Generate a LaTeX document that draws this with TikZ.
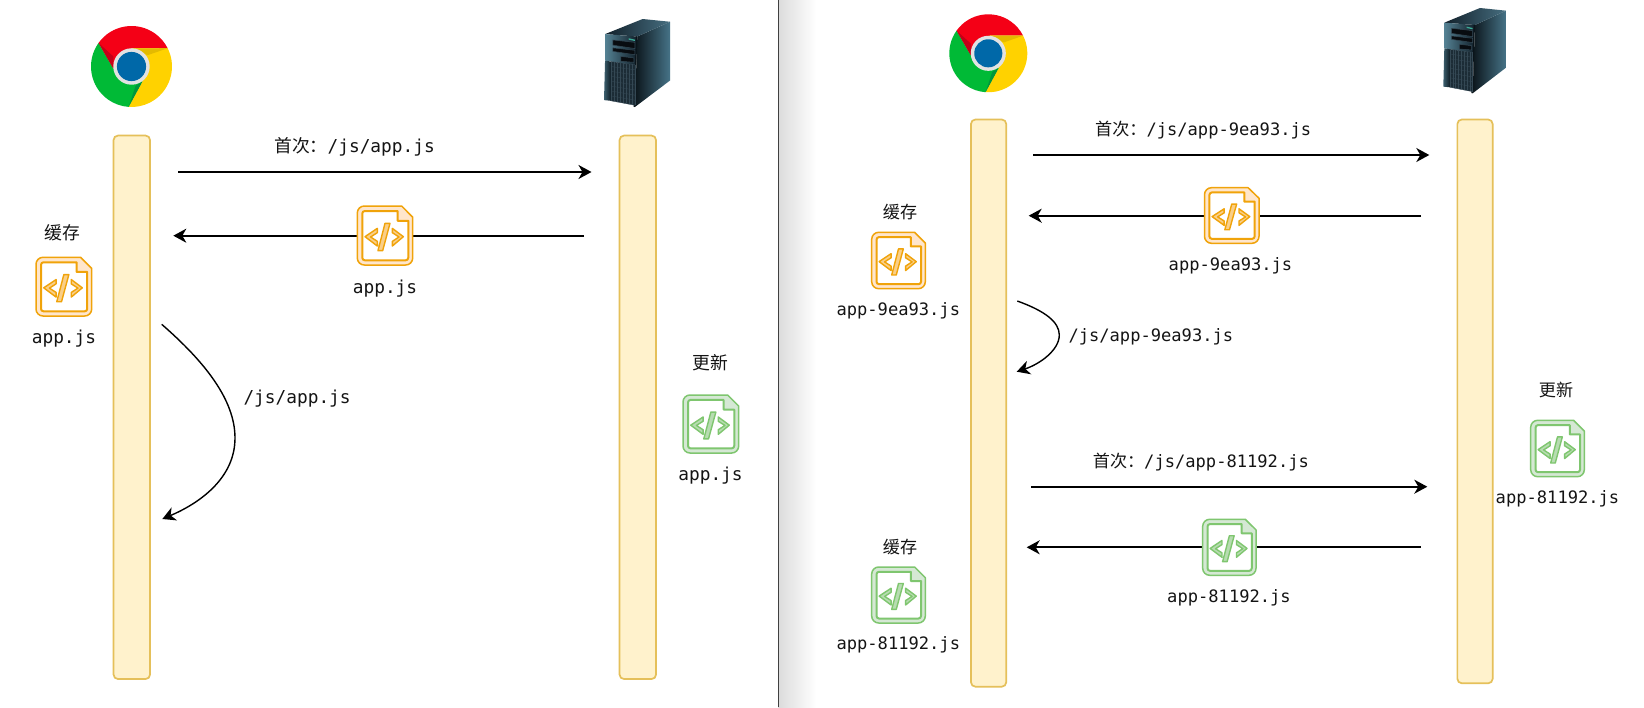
\documentclass[tikz,border=0pt]{standalone}
\usepackage{fontspec}
\setmainfont{DejaVu Sans Mono}
\newfontfamily\cjk{Noto Sans CJK SC}
\usetikzlibrary{arrows.meta}
\definecolor{barfill}{HTML}{FFF2CC}
\definecolor{barline}{HTML}{E5C05A}
\definecolor{orS}{HTML}{F0A30A}
\definecolor{orF}{HTML}{FFE6CC}
\definecolor{grS}{HTML}{7FC66F}
\definecolor{grF}{HTML}{D5E8D4}
\definecolor{txt}{HTML}{141414}
\definecolor{chR}{HTML}{F40016}
\definecolor{chG}{HTML}{00BA36}
\definecolor{chY}{HTML}{FFD200}
\definecolor{chRd}{HTML}{C40018}
\definecolor{chYd}{HTML}{E4BA00}
\definecolor{chGd}{HTML}{00963C}
\definecolor{chH}{HTML}{E2E2E2}
\definecolor{chB}{HTML}{0068A8}
\definecolor{svA}{HTML}{0C161C}
\definecolor{svB}{HTML}{467387}
\definecolor{svC}{HTML}{12202A}
\definecolor{svD}{HTML}{466E80}
\definecolor{svE}{HTML}{558294}
\definecolor{svF}{HTML}{101E28}
\definecolor{svG}{HTML}{0A141A}
\definecolor{svH}{HTML}{3C5F6E}
\definecolor{svI}{HTML}{0F1C24}
\definecolor{svJ}{HTML}{1C2C36}
\definecolor{svK}{HTML}{344854}
\definecolor{svL}{HTML}{3CAA96}
\definecolor{svM}{HTML}{080C10}
\tikzset{
  barbox/.style={draw=barline,fill=barfill,line width=1.7pt,rounded corners=4.5pt,inner sep=0pt,outer sep=0pt},
  flow/.style={line width=1.7pt,black,-{Stealth[length=13pt,width=14pt,inset=4pt]}},
  big/.style={font=\fontsize{17.8}{20}\selectfont,text=txt,inner sep=0pt,text height=17pt,text depth=4pt},
  small/.style={font=\fontsize{17.1}{20}\selectfont,text=txt,inner sep=0pt,text height=17pt,text depth=4pt},
  han/.style={yshift=-.3pt},
}
\newcommand{\codeicon}[7]{%
  \pgfmathsetmacro{\iw}{#4-#2}\pgfmathsetmacro{\ih}{#5-#3}
  \coordinate (#1) at ({(#2+#4)/2},{(#3+#5)/2});
  \begin{scope}[shift={(#2,#3)},x=\iw pt,y=-\ih pt,line join=round]
    \filldraw[draw=#6,fill=#7,line width=1.5pt,rounded corners=7pt]
      (.3,0) -- (0,0) -- (0,1) -- (1,1) -- (1,.42) [sharp corners] -- (1,.19) -- (.8,0) -- cycle;
    \filldraw[draw=#6,fill=white,line width=2pt]
      (.73,.085) [rounded corners=2.5pt] -- (.09,.085) -- (.09,.92) -- (.92,.92) [sharp corners] -- (.92,.25) -- (.73,.25) -- cycle;
    \filldraw[draw=#6,fill=#7!65!#6,line width=1.4pt]
      (.139,.52) -- (.361,.379) -- (.361,.452) -- (.241,.525) -- (.361,.599) -- (.361,.678) -- cycle
      (.831,.52) -- (.633,.379) -- (.633,.452) -- (.753,.525) -- (.633,.599) -- (.633,.678) -- cycle
      (.5,.294) -- (.59,.294) -- (.458,.757) -- (.373,.757) -- cycle;
  \end{scope}}
\newcommand{\chromelogo}[3]{%
  \begin{scope}[shift={(#1,#2)},x=#3pt,y=#3pt]
    \fill[chR] (144.5:1) arc[start angle=144.5,end angle=26.8,radius=1] -- (0,.45) -- (-.45,-.05) -- cycle;
    \fill[chG] (144.5:1) arc[start angle=144.5,end angle=266,radius=1] -- (.27,-.37) -- (-.45,-.05) -- cycle;
    \fill[chY] (26.8:1) arc[start angle=26.8,end angle=-94,radius=1] -- (.27,-.37) -- (0,.45) -- cycle;
    \fill[chRd] (144.5:1) -- (-.45,-.05) -- (-.45,.25) -- cycle;
    \fill[chYd] (26.8:1) -- (0,.45) -- (.4,.28) -- cycle;
    \fill[chGd] (-94:1) -- (.27,-.37) -- (.1,-.48) -- cycle;
    \fill[chH] (0,0) circle[radius=.45];
    \fill[chB] (0,0) circle[radius=.36];
  \end{scope}}
\newcommand{\servertower}[4]{%
  \pgfmathsetmacro{\sx}{#3/188}\pgfmathsetmacro{\sy}{#4/256}
  \begin{scope}[shift={(#1,#2)},x=\sx pt,y=-\sy pt]
    \shade[left color=svA,right color=svB] (95,51) -- (188,8) -- (188,179) -- (88,256) -- cycle;
    \shade[left color=svC,right color=svD] (3,44) -- (110,0) -- (188,8) -- (95,51) -- cycle;
    \shade[left color=svE,right color=svF] (3,44) -- (95,51) -- (91,135) -- (3,121) -- cycle;
    \fill[svG] (95,51) -- (88,256) -- (84,255) -- (91,50) -- cycle;
    \shade[left color=svH,right color=svI] (3,121) -- (20,124) -- (20,238) -- (0,236) -- cycle;
    \fill[svJ] (20,124) -- (88,133) -- (88,251) -- (20,238) -- cycle;
    \foreach \g in {0,.125,...,1}{\draw[line width=.35pt,svK] ({20+68*\g},{124+9*\g}) -- ({20+68*\g},{238+13*\g});}
    \foreach \g in {0,.125,...,1}{\draw[line width=.35pt,svK] (20,{124+114*\g}) -- (88,{133+118*\g});}
    \filldraw[svM,draw=svK,line width=.5pt] (25,61) -- (88,68) -- (88,86) -- (25,76) -- cycle;
    \filldraw[svM,draw=svK,line width=.5pt] (25,84) -- (88,91) -- (88,104) -- (25,94) -- cycle;
    \filldraw[svM,draw=svK,line width=.5pt] (48,109) -- (85,113) -- (85,126) -- (48,123) -- cycle;
    \fill[svL] (70,56) -- (88,60) -- (88,64) -- (70,60) -- cycle;
  \end{scope}}
\begin{document}
\begin{tikzpicture}[x=1pt,y=-1pt]
\useasboundingbox (0,0) rectangle (1644,707);
\fill[white] (0,0) rectangle (1644,707);
% divider
\shade[left color=black!14,right color=white] (778,0) rectangle (816,707);
\draw[line width=1pt,black!75] (778,0) -- (778,707);

% ---------- left panel
\chromelogo{131.5}{66.5}{40.5}
\servertower{604}{19}{66}{88}
\node[barbox,minimum width=36.5pt,minimum height=543.5pt] (barL1) at (131.8,407.3) {};
\node[barbox,minimum width=36.5pt,minimum height=543.5pt] (barL2) at (637.8,407.3) {};
\coordinate (a1s) at (178.3,172); \coordinate (a1e) at (591.5,172);
\coordinate (a2s) at (584,235.7); \coordinate (a2e) at (173.3,235.7);
\coordinate (c1s) at (161.7,324.3); \coordinate (c1m) at (235,438); \coordinate (c1e) at (162.3,519);
\draw[flow] (a1s) -- (a1e);
\draw[flow] (a2s) -- (a2e);
\draw[flow,line width=1.4pt] (c1s) .. controls (205,362) and (235,400) .. (c1m) .. controls (235,478) and (200,503) .. (c1e);
\codeicon{icL1}{357.3}{206}{412.7}{265}{orS}{orF}
\codeicon{icL2}{36}{257.3}{91.7}{316}{orS}{orF}
\codeicon{icL3}{683}{395}{738.7}{453}{grS}{grF}
\node[big,anchor=west] (tL1) at (274,146) {{\cjk 首次：}/js/app.js};
\node[big] (tL2) at (385,287) {app.js};
\node[big,han] (tL3) at (62.5,233) {\cjk 缓存};
\node[big] (tL4) at (64,337) {app.js};
\node[big,anchor=west] (tL5) at (243.3,397) {/js/app.js};
\node[big,han] (tL6) at (710.5,363) {\cjk 更新};
\node[big] (tL7) at (710.5,473.5) {app.js};

% ---------- right panel
\chromelogo{988.3}{53.3}{39}
\servertower{1443.3}{8}{62.7}{85.3}
\node[barbox,minimum width=35.3pt,minimum height=567.2pt] (barR1) at (988.6,403.1) {};
\node[barbox,minimum width=35.3pt,minimum height=563.8pt] (barR2) at (1475,401.4) {};
\coordinate (b1s) at (1033.3,155); \coordinate (b1e) at (1429.3,155);
\coordinate (b2s) at (1421,215.7); \coordinate (b2e) at (1028.7,215.7);
\coordinate (b3s) at (1031,486.7); \coordinate (b3e) at (1427.3,486.7);
\coordinate (b4s) at (1420.7,547.3); \coordinate (b4e) at (1026.7,547.3);
\coordinate (c2s) at (1017.3,301); \coordinate (c2m) at (1059.3,335); \coordinate (c2e) at (1016.7,371.7);
\draw[flow] (b1s) -- (b1e);
\draw[flow] (b2s) -- (b2e);
\draw[flow] (b3s) -- (b3e);
\draw[flow] (b4s) -- (b4e);
\draw[flow,line width=1.4pt] (c2s) .. controls (1045,311) and (1059.3,322) .. (c2m) .. controls (1059.3,350) and (1040,364) .. (c2e);
\codeicon{icR1}{1204.5}{187.7}{1259}{243.3}{orS}{orF}
\codeicon{icR2}{871.7}{232.3}{925.3}{288.7}{orS}{orF}
\codeicon{icR3}{1202.7}{519.3}{1256}{575.3}{grS}{grF}
\codeicon{icR4}{871.7}{567}{925.3}{623}{grS}{grF}
\codeicon{icR5}{1530.7}{420.3}{1584.3}{476.7}{grS}{grF}
\node[small,anchor=west] (tR1) at (1095,129.3) {{\cjk 首次：}/js/app-9ea93.js};
\node[small] (tR2) at (1230.5,264) {app-9ea93.js};
\node[small,han] (tR3) at (900,211.7) {\cjk 缓存};
\node[small] (tR4) at (898.3,309.3) {app-9ea93.js};
\node[small,anchor=west] (tR5) at (1068.3,335) {/js/app-9ea93.js};
\node[small,anchor=west] (tR6) at (1092.7,461) {{\cjk 首次：}/js/app-81192.js};
\node[small] (tR7) at (1229,595.7) {app-81192.js};
\node[small,han] (tR8) at (900,546.7) {\cjk 缓存};
\node[small] (tR9) at (898.3,643.3) {app-81192.js};
\node[small,han] (tR10) at (1556,390) {\cjk 更新};
\node[small] (tR11) at (1557.5,497.3) {app-81192.js};
\end{tikzpicture}
\end{document}
